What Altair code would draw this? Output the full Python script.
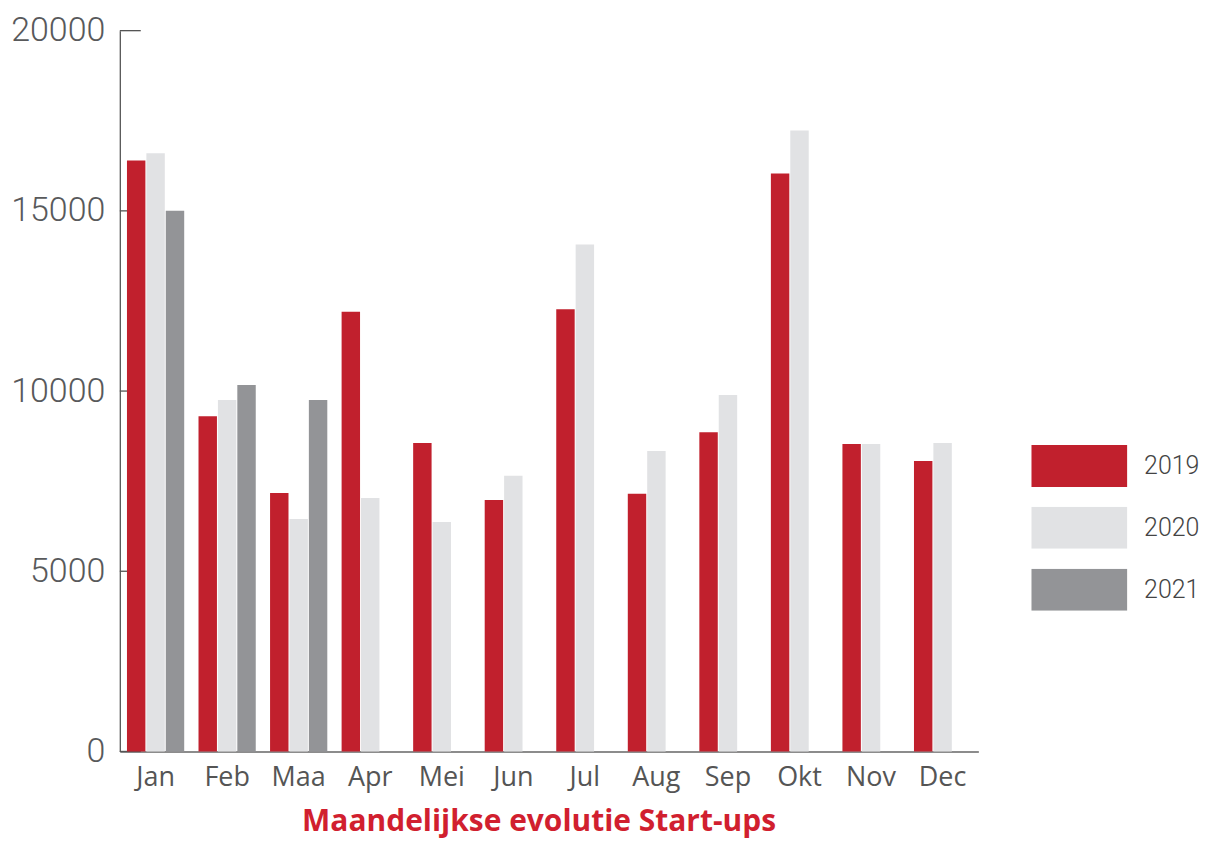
import altair as alt
import pandas as pd

months = ["Jan", "Feb", "Maa", "Apr", "Mei", "Jun", "Jul", "Aug", "Sep", "Okt", "Nov", "Dec"]
years = ["2019", "2020", "2021"]
v2019 = [16400, 9300, 7170, 12200, 8560, 6980, 12270, 7150, 8860, 16040, 8530, 8060]
v2020 = [16600, 9750, 6450, 7030, 6370, 7650, 14070, 8340, 9890, 17230, 8530, 8560]
v2021 = [15000, 10170, 9750]
y_ticks = [0, 5000, 10000, 15000, 20000]
colors = ["#c1202d", "#e1e2e4", "#939497"]

rows = []
for series, yr in ((v2019, "2019"), (v2020, "2020"), (v2021, "2021")):
    for m, v in zip(months, series):
        rows.append({"maand": m, "jaar": yr, "waarde": v})
df = pd.DataFrame(rows)
ticks_df = pd.DataFrame({"v": y_ticks})

ticks = alt.Chart(ticks_df).mark_rule(color="#555555", strokeWidth=1.3).encode(
    y=alt.Y("v:Q"),
    x=alt.value(0),
    x2=alt.value(21),
)

bars = alt.Chart(df).mark_bar().encode(
    x=alt.X(
        "maand:N",
        sort=months,
        scale=alt.Scale(paddingInner=0.2, paddingOuter=0.1),
        axis=alt.Axis(
            title=None,
            labelAngle=0,
            ticks=False,
            domainColor="#8c8c8c",
            domainWidth=2,
            labelFont="Open Sans",
            labelFontSize=27,
            labelColor="#555555",
            labelPadding=13,
        ),
    ),
    xOffset=alt.XOffset("jaar:N", sort=years, scale=alt.Scale(paddingInner=0.05, paddingOuter=0)),
    y=alt.Y(
        "waarde:Q",
        scale=alt.Scale(domain=[0, 20000], nice=False),
        axis=alt.Axis(
            title=None,
            values=y_ticks,
            format="d",
            grid=False,
            ticks=False,
            domainColor="#555555",
            domainWidth=1.3,
            labelFont="Roboto",
            labelFontWeight=300,
            labelFontSize=34,
            labelColor="#58595b",
            labelPadding=15,
        ),
    ),
    color=alt.Color(
        "jaar:N",
        scale=alt.Scale(domain=years, range=colors),
        legend=alt.Legend(
            title=None,
            orient="none",
            legendX=913,
            legendY=415,
            symbolType="M-1,-0.4375L1,-0.4375L1,0.4375L-1,0.4375Z",
            symbolSize=9216,
            symbolStrokeWidth=0,
            clipHeight=42,
            rowPadding=20,
            labelOffset=17,
            labelFont="Roboto",
            labelFontWeight=300,
            labelFontSize=25,
            labelColor="#444444",
        ),
    ),
)

chart = (
    alt.layer(ticks, bars)
    .properties(
        width=860,
        height=722,
        background="white",
        padding={"left": 2, "top": 5, "right": 0, "bottom": 6},
        title=alt.TitleParams(
            "Maandelijkse evolutie Start-ups",
            orient="bottom",
            anchor="middle",
            font="Open Sans",
            fontWeight="bold",
            fontSize=30,
            color="#d11f2f",
            offset=17,
            dx=-10,
        ),
    )
    .configure_view(strokeWidth=0, stroke="transparent")
)

chart.save("out.html", embed_options={"renderer": "svg", "actions": False})
